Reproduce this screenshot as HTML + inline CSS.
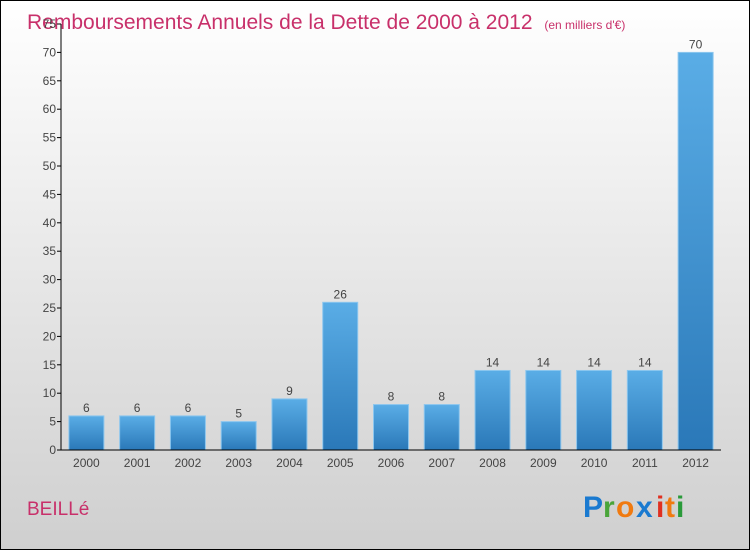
<!DOCTYPE html>
<html><head><meta charset="utf-8"><style>
body{margin:0}
#c{width:750px;height:550px;position:relative;box-sizing:border-box;border:1px solid #000;background:linear-gradient(#ffffff,#cfcfcf);font-family:"Liberation Sans",sans-serif;overflow:hidden}
</style></head><body>
<div id="c">
<svg id="s" width="750" height="550" style="position:absolute;left:-1px;top:-1px">
<defs><linearGradient id="g" x1="0" y1="0" x2="0" y2="1"><stop offset="0" stop-color="#5aade6"/><stop offset="1" stop-color="#2a78b8"/></linearGradient></defs>
<text x="27" y="29" font-size="21" fill="#c8306a">Remboursements Annuels de la Dette de 2000 à 2012 <tspan font-size="12" dx="6">(en milliers d'€)</tspan></text>
<text x="27" y="515" font-size="19" fill="#c8306a">BEILLé</text>
<g font-size="30" font-weight="bold" font-family="'Liberation Sans',sans-serif">
<text x="583" y="517" fill="#1a7ad0">P</text><text x="603" y="517" fill="#4aa53a">r</text><text x="616" y="517" fill="#f07a10">o</text><text x="636" y="517" fill="#1a7ad0">x</text><text x="656" y="517" fill="#e03020">i</text><text x="665" y="517" fill="#f07a10">t</text><text x="676" y="517" fill="#2a9a3a">i</text>
</g>
<g id="plot"></g>
</svg>
</div>
<script>
const categories=["2000","2001","2002","2003","2004","2005","2006","2007","2008","2009","2010","2011","2012"];
const values=[6,6,6,5,9,26,8,8,14,14,14,14,70];
const ticks=[0,5,10,15,20,25,30,35,40,45,50,55,60,65,70,75];
const x0=61,x1=721,y0=450,yTop=24,max=75;
const band=(x1-x0)/categories.length;
const y=v=>y0-(v/max)*(y0-yTop);
const xc=i=>x0+band*(i+0.5);
const ns="http://www.w3.org/2000/svg";
const p=document.getElementById('plot');
function mk(t,a,txt){const e=document.createElementNS(ns,t);for(const k in a)e.setAttribute(k,a[k]);if(txt!==undefined)e.textContent=txt;p.appendChild(e);return e;}
values.forEach((v,i)=>{
 const r=mk('rect',{x:xc(i)-17.5,y:y(v),width:35,height:y0-y(v),fill:'url(#g)',stroke:'#8cc6ee','stroke-width':1});
 
 
 const t=mk('text',{x:xc(i),y:y(v)-4,'text-anchor':'middle','font-size':12,fill:'#444'},String(v));
 
 
 const c=mk('text',{x:xc(i),y:467,'text-anchor':'middle','font-size':12,fill:'#444'},categories[i]);
 
 
});
ticks.forEach(v=>{
 const l=mk('line',{x1:x0-4,x2:x0,y1:y(v),y2:y(v),stroke:'#000'});
 
 
 const t=mk('text',{x:x0-5,y:y(v)+4,'text-anchor':'end','font-size':12,fill:'#444'},String(v));
 
 
});
const ya=mk('line',{x1:x0,x2:x0,y1:yTop,y2:y0,stroke:'#000'});


const xa=mk('line',{x1:x0,x2:x1,y1:y0,y2:y0,stroke:'#000'});


</script>
</body></html>
